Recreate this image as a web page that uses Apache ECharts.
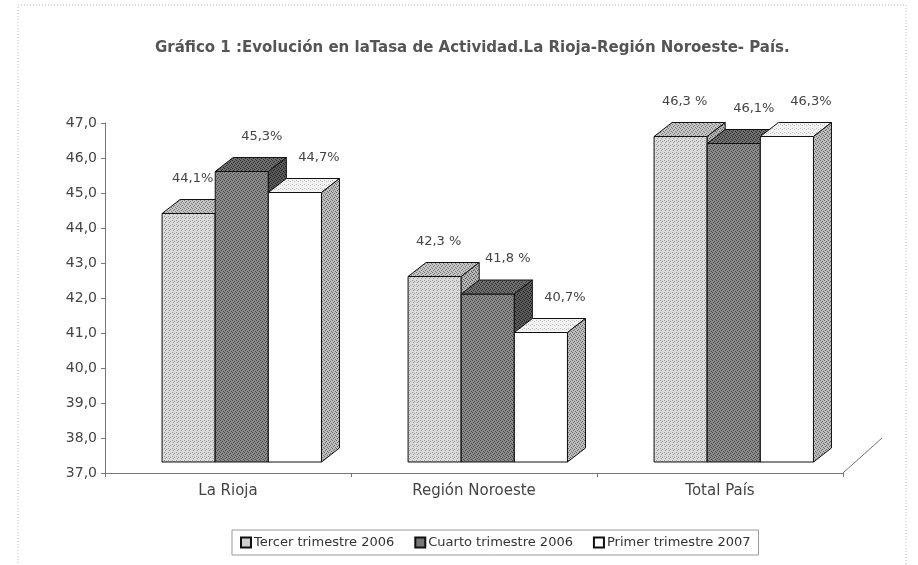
<!DOCTYPE html>
<html>
<head>
<meta charset="utf-8">
<script src="https://cdn.jsdelivr.net/npm/echarts@6/dist/echarts.min.js"></script>
<style>
html, body { margin: 0; padding: 0; background: #fff; }
#chart { width: 918px; height: 565px; }
</style>
</head>
<body>
<div id="chart"></div>
<script>
var categories = ['La Rioja', 'Región Noroeste', 'Total País'];
var seriesNames = ['Tercer trimestre 2006', 'Cuarto trimestre 2006', 'Primer trimestre 2007'];

var tercer = [44.1, 42.3, 46.3];
var cuarto = [45.3, 41.8, 46.1];
var primer = [44.7, 40.7, 46.3];

var tercerLabels = ['44,1%', '42,3 %', '46,3 %'];
var cuartoLabels = ['45,3%', '41,8 %', '46,1%'];
var primerLabels = ['44,7%', '40,7%', '46,3%'];

var yMin = 37, yMax = 47, yStep = 1;

var FONT = '"DejaVu Sans", Verdana, sans-serif';

// small dithered tiles so the faces look like the stippled print
function stipple(base, dot, every) {
    var c = document.createElement('canvas');
    c.width = 4; c.height = 4;
    var g = c.getContext('2d');
    g.fillStyle = base;
    g.fillRect(0, 0, 4, 4);
    g.fillStyle = dot;
    var pts = [[0, 0], [2, 1], [1, 2], [3, 3], [3, 0], [1, 1]];
    for (var i = 0; i < every; i++) {
        g.fillRect(pts[i][0], pts[i][1], 1, 1);
    }
    return { image: c, repeat: 'repeat' };
}

var faces = [
    { front: stipple('#dadada', '#9a9a9a', 3), top: stipple('#c4c4c4', '#7a7a7a', 4), side: stipple('#b4b4b4', '#5a5a5a', 4), legend: '#cfcfcf' },
    { front: stipple('#8a8a8a', '#4a4a4a', 4), top: stipple('#6e6e6e', '#2e2e2e', 4), side: stipple('#5a5a5a', '#222', 4), legend: '#777' },
    { front: '#ffffff', top: stipple('#f2f2f2', '#bbb', 2), side: stipple('#bcbcbc', '#6a6a6a', 4), legend: '#fff' }
];
var labelShift = [4, 20, 24];

function boxRenderer(idx, labels) {
    return function (params, api) {
        var cat = api.value(0);
        var v = api.value(1);
        var top = api.coord([cat, v]);
        var base = api.coord([cat, yMin]);
        var band = api.size([1, 0])[0];
        var bw = band * 0.216;
        var x0 = top[0] - band * 0.268 + idx * bw;
        var lift = 11;
        var yT = top[1] - lift, yB = base[1] - lift;
        var dx = 18, dy = -14;
        var f = faces[idx];
        var edge = { stroke: '#111', lineWidth: 1 };
        return {
            type: 'group',
            children: [
                { type: 'rect', shape: { x: x0, y: yT, width: bw, height: yB - yT },
                  style: Object.assign({ fill: f.front }, edge) },
                { type: 'polygon', shape: { points: [[x0, yT], [x0 + dx, yT + dy], [x0 + bw + dx, yT + dy], [x0 + bw, yT]] },
                  style: Object.assign({ fill: f.top }, edge) },
                { type: 'polygon', shape: { points: [[x0 + bw, yT], [x0 + bw + dx, yT + dy], [x0 + bw + dx, yB + dy], [x0 + bw, yB]] },
                  style: Object.assign({ fill: f.side }, edge) },
                { type: 'text', x: x0 + bw / 2 + labelShift[idx], y: yT - 35,
                  style: { text: labels[params.dataIndex], fill: '#444', font: '13px ' + FONT,
                           align: 'center', verticalAlign: 'middle' } }
            ]
        };
    };
}

function toPairs(arr) {
    return arr.map(function (v, i) { return [i, v]; });
}

var allValues = [tercer, cuarto, primer];
var allLabels = [tercerLabels, cuartoLabels, primerLabels];

var series = allValues.map(function (vals, i) {
    return {
        name: seriesNames[i],
        type: 'custom',
        clip: false,
        renderItem: boxRenderer(i, allLabels[i]),
        encode: { x: 0, y: 1 },
        itemStyle: { color: faces[i].legend, borderColor: '#111', borderWidth: 1 },
        data: toPairs(vals)
    };
});

var chart = echarts.init(document.getElementById('chart'));

var option = {
    animation: false,
    backgroundColor: '#fff',
    title: {
        text: 'Gráfico 1 :Evolución en laTasa de Actividad.La Rioja-Región Noroeste- País.',
        left: 150,
        top: 36,
        textStyle: { fontSize: 15, fontWeight: 'bold', color: '#555', fontFamily: FONT }
    },
    grid: { left: 105, right: 75, top: 123, bottom: 92 },
    legend: {
        data: seriesNames,
        bottom: 10,
        left: 232,
        icon: 'rect',
        itemWidth: 10,
        itemHeight: 10,
        itemGap: 20,
        borderColor: '#999',
        borderWidth: 1,
        padding: [6, 8],
        textStyle: { fontSize: 13, color: '#333', fontFamily: FONT, padding: [0, 0, 0, -2] }
    },
    xAxis: {
        type: 'category',
        data: categories,
        axisLine: { lineStyle: { color: '#777' } },
        axisTick: { show: true, length: 4, lineStyle: { color: '#777' } },
        axisLabel: { fontSize: 15, color: '#444', margin: 11, fontFamily: FONT },
        splitLine: { show: false }
    },
    yAxis: {
        type: 'value',
        min: yMin,
        max: yMax,
        interval: yStep,
        axisLine: { show: true, lineStyle: { color: '#777' } },
        axisTick: { show: true, length: 4, lineStyle: { color: '#777' } },
        axisLabel: {
            fontSize: 14, color: '#444', margin: 8, fontFamily: FONT,
            formatter: function (v) { return v.toFixed(1).replace('.', ','); }
        },
        splitLine: { show: false }
    },
    graphic: [
        { type: 'rect', shape: { x: 18, y: 5, width: 888, height: 570 }, silent: true,
          style: { fill: 'none', stroke: '#bbb', lineWidth: 1, lineDash: [1, 2] } },
        { type: 'line', shape: { x1: 843, y1: 473, x2: 882, y2: 438 }, silent: true,
          style: { stroke: '#777', lineWidth: 1 } }
    ],
    series: series
};

chart.setOption(option);
</script>
</body>
</html>
